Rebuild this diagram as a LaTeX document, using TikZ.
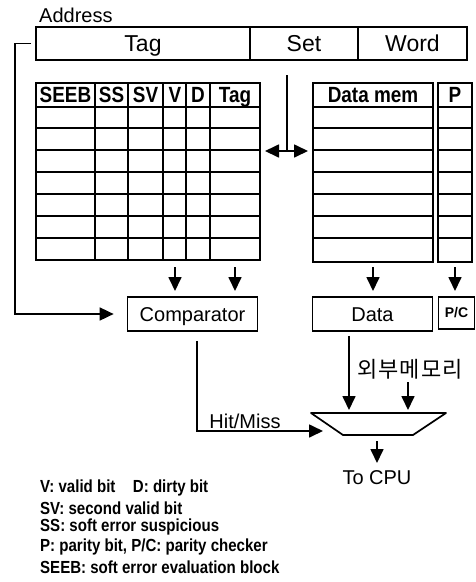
\documentclass[tikz,border=0pt]{standalone}
\usepackage{fontspec}
\setmainfont{Liberation Sans}
\newfontfamily\narrowsf[FakeStretch=0.86]{Liberation Sans}
\newfontfamily\krfont[LetterSpace=5]{Noto Sans CJK KR}
\usetikzlibrary{arrows.meta,calc,positioning}

\tikzset{
  lbl/.style={font=\fontsize{20}{22}\selectfont,text height=14pt,text depth=0pt},
  field/.style={draw,line width=1.7pt,minimum height=33pt,inner sep=0pt,
    font=\fontsize{23}{25}\selectfont,text height=16pt,text depth=0pt},
  unit/.style={draw,line width=1.7pt,minimum height=34pt,inner sep=0pt,lbl},
  gridln/.style={line width=1.7pt},
  hdr/.style={font=\narrowsf\bfseries\fontsize{22}{24}\selectfont,inner sep=0pt,
    text height=15.5pt,text depth=0pt},
  legend/.style={font=\narrowsf\bfseries\fontsize{17.5}{19}\selectfont,anchor=west,inner sep=0pt},
  wire/.style={line width=1.7pt},
  arr/.style={line width=1.7pt,-{Triangle[length=14pt,width=13pt]}},
  darr/.style={line width=1.7pt,{Triangle[length=14pt,width=13pt]}-{Triangle[length=14pt,width=13pt]}}
}

\begin{document}
\begin{tikzpicture}[x=1pt,y=-1pt]
  \useasboundingbox (0,0) rectangle (476,582);

  % address fields
  \node[lbl,anchor=west,inner sep=0pt] (addr) at (39,15) {Address};
  \node[field,minimum width=214pt] (tagf) at (143,43.5) {Tag};
  \node[field,minimum width=108pt] (setf) at (304,43.5) {Set};
  \node[field,minimum width=109pt] (wordf) at (412.5,43.5) {Word};

  % tag array
  \draw[gridln] (36,83) rectangle (260,260);
  \foreach \y in {107,128,150,172,194,216,238}
    \draw[gridln] (36,\y) -- (260,\y);
  \foreach \x in {95,128,163,186,210}
    \draw[gridln] (\x,83) -- (\x,260);
  \node[hdr] (hSEEB) at (65.5,95) {SEEB};
  \node[hdr] (hSS) at (111.5,95) {SS};
  \node[hdr] (hSV) at (145.5,95) {SV};
  \node[hdr] (hV) at (175,95) {V};
  \node[hdr] (hD) at (198,95) {D};
  \node[hdr] (hTag) at (235,95) {Tag};

  % data array and parity bits
  \draw[gridln] (313,83) rectangle (433,262);
  \draw[gridln] (438,83) rectangle (472,262);
  \foreach \y in {107,128,150,172,194,216,238} {
    \draw[gridln] (313,\y) -- (433,\y);
    \draw[gridln] (438,\y) -- (472,\y);
  }
  \node[hdr] (hData) at (373,95) {Data mem};
  \node[hdr] (hP) at (455,95) {P};

  % set index
  \coordinate (setin) at (287,151);
  \draw[wire] (setin |- 0,75) -- (setin);
  \draw[darr] (265,151) -- (308,151);

  % read-out arrows
  \draw[arr] (hV |- 0,267) -- (hV |- 0,291);
  \draw[arr] (hTag |- 0,267) -- (hTag |- 0,291);
  \draw[arr] (hData |- 0,267) -- (hData |- 0,291);
  \draw[arr] (hP |- 0,267) -- (hP |- 0,291);

  \node[unit,minimum width=130pt] (comp) at (192.5,314) {Comparator};
  \node[unit,minimum width=120pt] (data) at (372.5,314) {Data};
  \node[draw,line width=1.7pt,minimum width=36pt,minimum height=32pt,inner sep=0pt,
        font=\bfseries\fontsize{14}{15}\selectfont] (pc) at (456.5,313) {P/C};

  % tag compare path
  \draw[arr] ([xshift=-4pt]tagf.west) -- ++(-16,0) |- ([xshift=-13pt]comp.west);

  % output mux
  \draw[line width=1.7pt,line join=round] (311,413) -- (446,413) -- (413,435) -- (343,435) -- cycle;
  \coordinate (muxa) at (349,410);
  \coordinate (muxb) at (408,410);
  \coordinate (muxo) at (377,441);
  \coordinate (hmend) at (323,431);
  \draw[arr] ([xshift=4.5pt,yshift=-9pt]comp.south) |- (hmend);
  \node[lbl,inner sep=0pt] (hm) at (245,421) {Hit/Miss};

  \draw[arr] ([yshift=-4pt]data.south -| muxa) -- (muxa);
  \node[font=\krfont\fontsize{22}{24}\selectfont,inner sep=0pt] (ext) at (410,369) {외부메모리};
  \draw[arr] ([yshift=-3pt]ext.south -| muxb) -- (muxb);

  \draw[arr] (muxo) -- ++(0,22);
  \node[lbl,inner sep=0pt] (cpu) at (377,477) {To CPU};

  % legend
  \node[legend] (leg1) at (40,488) {V: valid bit\quad D: dirty bit};
  \node[legend] (leg2) at (40,508) {SV: second valid bit};
  \node[legend] (leg3) at (40,527) {SS: soft error suspicious};
  \node[legend] (leg4) at (40,547) {P: parity bit, P/C: parity checker};
  \node[legend] (leg5) at (40,567) {SEEB: soft error evaluation block};
\end{tikzpicture}
\end{document}
